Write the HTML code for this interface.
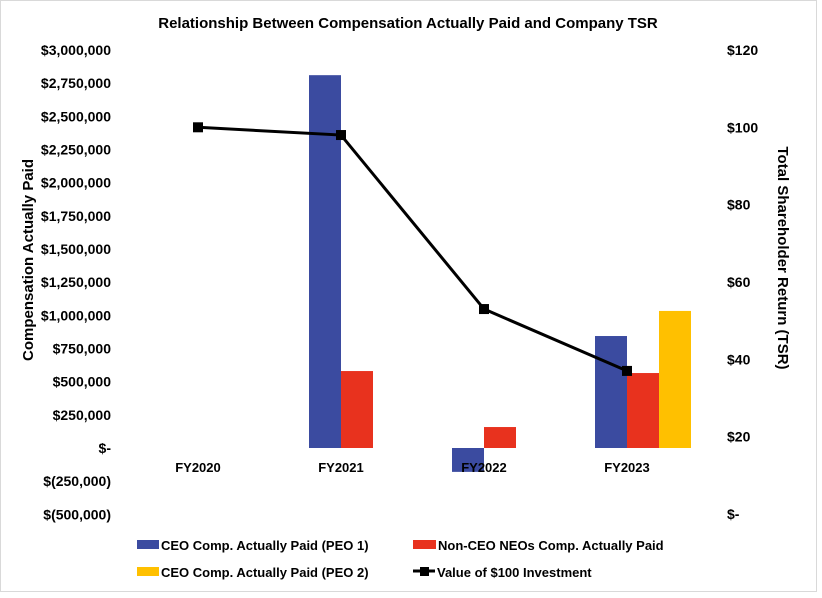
<!DOCTYPE html>
<html><head><meta charset="utf-8"><style>
body{margin:0;background:#fff}
svg{display:block;font-family:"Liberation Sans",sans-serif;font-weight:bold}
</style></head><body>
<svg id="c" width="822" height="598" viewBox="0 0 822 598">
<rect x="0.5" y="0.5" width="816" height="591" fill="#fff" stroke="#d9d9d9"/>
<text x="408" y="28" text-anchor="middle" font-size="15" fill="#000">Relationship Between Compensation Actually Paid and Company TSR</text>
<text transform="translate(33,260) rotate(-90)" text-anchor="middle" font-size="15">Compensation Actually Paid</text>
<text transform="translate(778,258) rotate(90)" text-anchor="middle" font-size="15">Total Shareholder Return (TSR)</text>
<g id="bars"></g><g id="ticks"></g><g id="line"></g>
<g font-size="13">
<rect x="137" y="540" width="22" height="9" fill="#3B4BA0"/>
<text x="161" y="550">CEO Comp. Actually Paid (PEO 1)</text>
<rect x="413" y="540" width="23" height="9" fill="#E8321E"/>
<text x="438" y="550">Non-CEO NEOs Comp. Actually Paid</text>
<rect x="137" y="567" width="22" height="9" fill="#FFC000"/>
<text x="161" y="577">CEO Comp. Actually Paid (PEO 2)</text>
<line x1="413" y1="571" x2="435" y2="571" stroke="#000" stroke-width="3"/>
<rect x="420" y="567" width="9" height="9" fill="#000"/>
<text x="437" y="577">Value of $100 Investment</text>
</g>
</svg>
<script>
const categories=["FY2020","FY2021","FY2022","FY2023"];
const peo1=[null,2810000,-180000,844000];
const neo=[null,580000,158000,565000];
const peo2=[null,null,null,1033000];
const tsr=[100,98,53,37];
const leftTicks=[3000000,2750000,2500000,2250000,2000000,1750000,1500000,1250000,1000000,750000,500000,250000,0,-250000,-500000];
const rightTicks=[120,100,80,60,40,20,0];
const NS="http://www.w3.org/2000/svg";
const yL=v=>448-v/250000*33.17;
const yR=v=>514-v*3.867;
const xC=i=>198+i*143;
function mk(t,a,p){const e=document.createElementNS(NS,t);for(const k in a)e.setAttribute(k,a[k]);p.appendChild(e);return e;}
const bars=document.getElementById('bars'),ticks=document.getElementById('ticks'),line=document.getElementById('line');
leftTicks.forEach(v=>{const s=v===0?"$-":v<0?"$("+(-v).toLocaleString("en-US")+")":"$"+v.toLocaleString("en-US");
const t=mk('text',{x:111,y:yL(v)+5,'text-anchor':'end','font-size':14},ticks);t.textContent=s;

});
rightTicks.forEach(v=>{const t=mk('text',{x:727,y:yR(v)+5,'font-size':14},ticks);t.textContent=v===0?"$-":"$"+v;

});
categories.forEach((c,i)=>{const t=mk('text',{x:xC(i),y:472,'text-anchor':'middle','font-size':13},ticks);t.textContent=c;

});
const series=[[peo1,"#3B4BA0",-32,'bar-peo1'],[neo,"#E8321E",0,'bar-neo'],[peo2,"#FFC000",32,'bar-peo2']];
series.forEach(([arr,col,off,name])=>arr.forEach((v,i)=>{if(v==null)return;const y0=yL(0),y1=yL(v);
const r=mk('rect',{x:xC(i)+off,y:Math.min(y0,y1),width:32,height:Math.abs(y1-y0),fill:col},bars);

}));
const pts=tsr.map((v,i)=>xC(i)+","+yR(v)).join(" ");
const pl=mk('polyline',{points:pts,fill:'none',stroke:'#000','stroke-width':3},line);


tsr.forEach((v,i)=>{const m=mk('rect',{x:xC(i)-5,y:yR(v)-5,width:10,height:10,fill:'#000'},line);

});
</script>
</body></html>
